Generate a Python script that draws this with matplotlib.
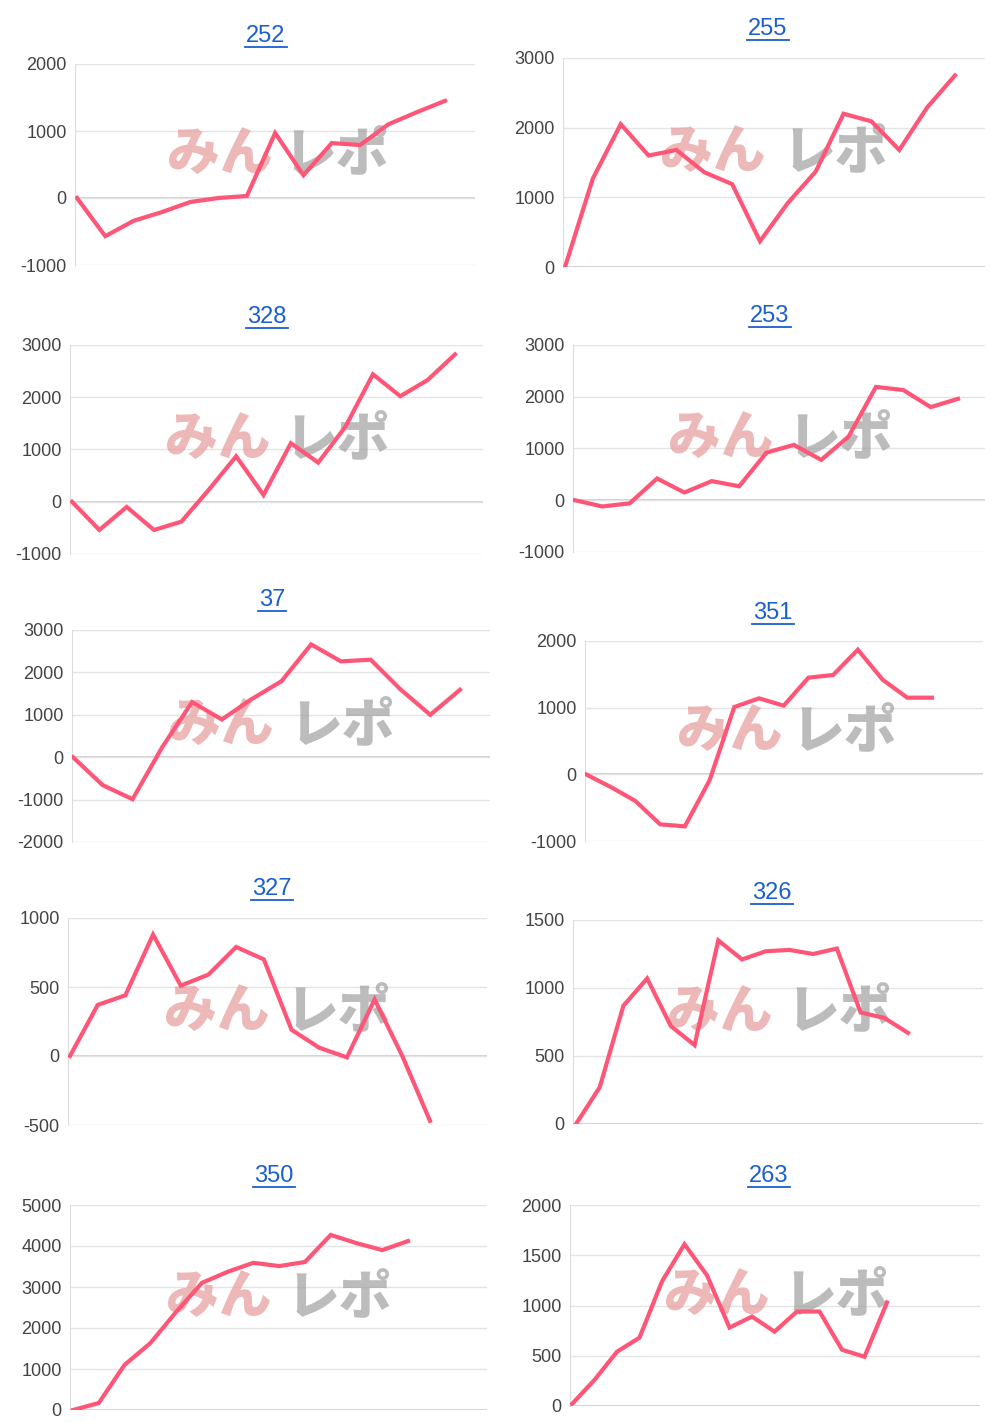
import matplotlib
matplotlib.use("Agg")
import matplotlib.pyplot as plt

plt.rcParams['font.family'] = ['Liberation Sans', 'DejaVu Sans']
plt.rcParams['axes.unicode_minus'] = False

titles = ["252", "255", "328", "253", "37", "351", "327", "326", "350", "263"]

v252 = [0, -570, -340, -210, -60, 0, 30, 970, 340, 820, 790, 1100, 1280, 1450]
v255 = [0, 1270, 2050, 1600, 1680, 1360, 1190, 370, 920, 1370, 2200, 2090, 1680, 2290, 2750]
v328 = [0, -540, -100, -540, -380, 230, 870, 130, 1120, 750, 1440, 2440, 2020, 2330, 2820]
v253 = [0, -120, -60, 420, 150, 370, 270, 920, 1070, 780, 1230, 2190, 2130, 1800, 1960]
v37 = [0, -660, -990, 240, 1300, 890, 1370, 1790, 2660, 2260, 2300, 1600, 1000, 1590]
v351 = [0, -190, -400, -750, -780, -90, 1010, 1140, 1030, 1450, 1490, 1870, 1420, 1150, 1150]
v327 = [0, 370, 440, 880, 510, 590, 790, 700, 190, 60, -10, 410, 0, -470]
v326 = [0, 270, 870, 1070, 720, 580, 1350, 1210, 1270, 1280, 1250, 1290, 820, 780, 670]
v350 = [0, 170, 1100, 1630, 2390, 3100, 3370, 3590, 3510, 3610, 4270, 4070, 3900, 4120]
v263 = [20, 260, 540, 680, 1240, 1610, 1300, 780, 890, 740, 940, 940, 560, 490, 1030]
series = [v252, v255, v328, v253, v37, v351, v327, v326, v350, v263]

yticks = [
    [-1000, 0, 1000, 2000], [0, 1000, 2000, 3000],
    [-1000, 0, 1000, 2000, 3000], [-1000, 0, 1000, 2000, 3000],
    [-2000, -1000, 0, 1000, 2000, 3000], [-1000, 0, 1000, 2000],
    [-500, 0, 500, 1000], [0, 500, 1000, 1500],
    [0, 1000, 2000, 3000, 4000, 5000], [0, 500, 1000, 1500, 2000],
]

# pixel boxes: left, right, top, bottom, first point x, last point x, title x, title y
boxes = [
    (75, 475, 64, 265, 77, 445, 266, 36), (563, 985, 58, 267, 565, 955, 768, 29),
    (70, 483, 345, 554, 72, 455, 267, 317), (573, 985, 345, 552, 575, 958, 770, 316),
    (72, 490, 630, 842, 73, 460, 272, 600), (585, 983, 641, 841, 586, 932, 773, 613),
    (68, 487, 918, 1125, 70, 430, 272, 889), (573, 983, 920, 1124, 576, 908, 772, 893),
    (70, 487, 1205, 1410, 73, 408, 274, 1176), (570, 980, 1205, 1406, 572, 887, 769, 1176),
]

W, H = 1000, 1428
fig = plt.figure(figsize=(10, 14.28), dpi=100)

for vals, title, ticks, (l, r, t, b, x0, x1, tx, ty) in zip(series, titles, yticks, boxes):
    ax = fig.add_axes([l / W, 1 - b / H, (r - l) / W, (b - t) / H])
    n = len(vals)
    step = (x1 - x0) / (n - 1)
    ax.set_xlim(-(x0 - l) / step, (r - x0) / step)
    ax.set_ylim(ticks[0], ticks[-1])
    ax.plot(range(n), vals, color='#ff5577', lw=3, zorder=3, solid_joinstyle='miter')
    ax.set_yticks(ticks)
    ax.set_xticks([])
    ax.grid(axis='y', color='#e4e4e4', lw=1)
    ax.axhline(0, color='#c8c8c8', lw=1.2, zorder=1)
    for s in ['top', 'right', 'bottom']:
        ax.spines[s].set_visible(False)
    ax.spines['left'].set_color('#dddddd')
    ax.tick_params(axis='y', length=0, labelsize=13, labelcolor='#444444', pad=6)
    # watermark
    ax.text(0.23, 0.55, "みん", transform=ax.transAxes, fontsize=38, fontweight='black',
            color='#e8a0a0', alpha=0.75, ha='left', va='center', zorder=2,
            family=['Noto Sans CJK JP'])
    ax.text(0.52, 0.55, "レポ", transform=ax.transAxes, fontsize=38, fontweight='black',
            color='#999999', alpha=0.65, ha='left', va='center', zorder=2,
            family=['Noto Sans CJK JP'])
    fig.text(tx / W, 1 - ty / H, title, ha='center', va='center', fontsize=17,
             color='#1a5fd0')
    half = 7 * len(title)
    fig.add_artist(plt.Line2D([(tx - half) / W, (tx + half) / W], [1 - (ty + 11) / H] * 2,
                              color='#1a5fd0', lw=1.3))

fig.savefig("out.png", dpi=100)
